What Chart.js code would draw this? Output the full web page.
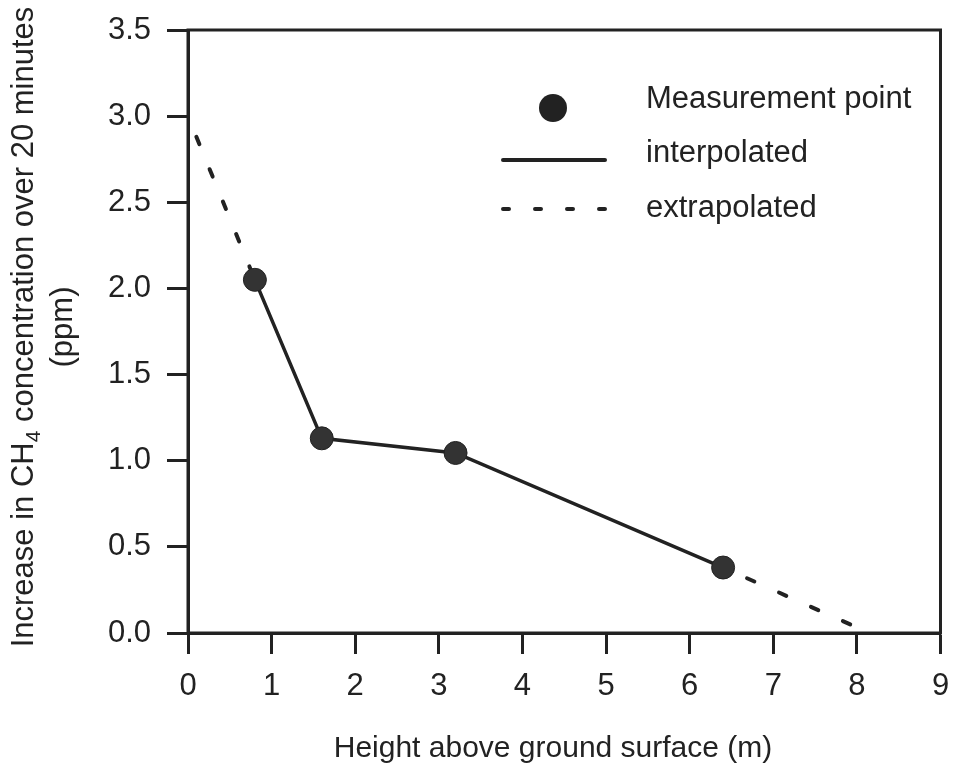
<!DOCTYPE html>
<html>
<head>
<meta charset="utf-8">
<script src="https://cdn.jsdelivr.net/npm/chart.js@4.4.1/dist/chart.umd.min.js"></script>
<style>
  html, body { margin: 0; padding: 0; background: #fff; }
  #wrap { width: 953px; height: 765px; }
</style>
</head>
<body>
<div id="wrap"><canvas id="ch4Chart" width="953" height="765"></canvas></div>
<script>
// measured points: height (m) vs CH4 increase (ppm)
const heights = [0.8, 1.6, 3.2, 6.4];
const ch4Increase = [2.05, 1.13, 1.045, 0.38];

// extrapolated ends of the profile
const extrapUpperX = [0.1, 0.8];
const extrapUpperY = [2.88, 2.05];
const extrapLowerX = [7.92, 6.4];
const extrapLowerY = [0.05, 0.38];

const xTicks = [0, 1, 2, 3, 4, 5, 6, 7, 8, 9];
const yTicks = [0, 0.5, 1.0, 1.5, 2.0, 2.5, 3.0, 3.5];

const legendLabels = ['Measurement point', 'interpolated', 'extrapolated'];

const INK = '#222';
const FONT = '"Liberation Sans", Arial, sans-serif';

const toPoints = (xs, ys) => xs.map((x, i) => ({ x: x, y: ys[i] }));

// box frame, legend and axis titles
const decorPlugin = {
    id: 'decor',
    afterDraw(chart) {
        const ctx = chart.ctx;
        const a = chart.chartArea;
        ctx.save();
        ctx.strokeStyle = INK;
        ctx.lineWidth = 3;
        ctx.strokeRect(a.left, a.top, a.right - a.left, a.bottom - a.top);

        // legend
        ctx.fillStyle = INK;
        ctx.beginPath();
        ctx.arc(553, 108, 14, 0, Math.PI * 2);
        ctx.fill();

        ctx.lineCap = 'round';
        ctx.lineWidth = 4;
        ctx.beginPath();
        ctx.moveTo(503, 160);
        ctx.lineTo(605, 160);
        ctx.stroke();

        ctx.setLineDash([6, 26]);
        ctx.beginPath();
        ctx.moveTo(503, 209);
        ctx.lineTo(606, 209);
        ctx.stroke();
        ctx.setLineDash([]);

        ctx.font = '31px ' + FONT;
        ctx.textBaseline = 'alphabetic';
        ctx.textAlign = 'left';
        ctx.fillText(legendLabels[0], 646, 108);
        ctx.fillText(legendLabels[1], 646, 162);
        ctx.fillText(legendLabels[2], 646, 217);

        // x axis title
        ctx.font = '30px ' + FONT;
        ctx.textAlign = 'center';
        ctx.fillText('Height above ground surface (m)', 553, 757);

        // y axis title with subscript
        const cy = 327;
        ctx.translate(0, cy);
        ctx.rotate(-Math.PI / 2);
        const big = '31px ' + FONT;
        const small = '21px ' + FONT;
        const p1 = 'Increase in CH';
        const p2 = '4';
        const p3 = ' concentration over 20 minutes';
        ctx.font = big;
        const w1 = ctx.measureText(p1).width;
        const w3 = ctx.measureText(p3).width;
        ctx.font = small;
        const w2 = ctx.measureText(p2).width;
        let x0 = -(w1 + w2 + w3) / 2;
        ctx.textAlign = 'left';
        ctx.font = big;
        ctx.fillText(p1, x0, 33);
        ctx.font = small;
        ctx.fillText(p2, x0 + w1, 40);
        ctx.font = big;
        ctx.fillText(p3, x0 + w1 + w2, 33);
        ctx.textAlign = 'center';
        ctx.fillText('(ppm)', 0, 72);
        ctx.restore();
    }
};

new Chart(document.getElementById('ch4Chart'), {
    type: 'scatter',
    data: {
        datasets: [
            {
                label: legendLabels[0],
                data: toPoints(heights, ch4Increase),
                showLine: true,
                borderColor: INK,
                borderWidth: 3.5,
                pointRadius: 11.5,
                pointBackgroundColor: '#333',
                pointBorderColor: INK,
                pointBorderWidth: 1,
                order: 0
            },
            {
                label: 'upper',
                data: toPoints(extrapUpperX, extrapUpperY),
                showLine: true,
                borderColor: INK,
                borderWidth: 4,
                borderDash: [8, 27],
                borderCapStyle: 'round',
                pointRadius: 0,
                order: 1
            },
            {
                label: legendLabels[2],
                data: toPoints(extrapLowerX, extrapLowerY),
                showLine: true,
                borderColor: INK,
                borderWidth: 4,
                borderDash: [8, 27],
                borderCapStyle: 'round',
                pointRadius: 0,
                order: 1
            }
        ]
    },
    options: {
        responsive: false,
        animation: false,
        devicePixelRatio: 1,
        layout: { padding: { left: 0, top: 30, right: 11, bottom: 0 } },
        plugins: {
            legend: { display: false },
            tooltip: { enabled: false }
        },
        scales: {
            x: {
                type: 'linear',
                min: 0,
                max: 9,
                afterFit: (scale) => {
                    scale.height = 132;
                    scale.paddingLeft = 0;
                    scale.paddingRight = 0;
                },
                afterBuildTicks: (scale) => { scale.ticks = xTicks.map(v => ({ value: v })); },
                border: { display: true, color: INK, width: 3 },
                grid: {
                    drawOnChartArea: false,
                    drawTicks: true,
                    tickLength: 21,
                    tickWidth: 3,
                    color: INK
                },
                ticks: {
                    color: INK,
                    font: { family: FONT, size: 31 },
                    padding: 14,
                    callback: (v) => String(v)
                }
            },
            y: {
                type: 'linear',
                min: 0,
                max: 3.5,
                afterFit: (scale) => {
                    scale.width = 188;
                    scale.paddingTop = 0;
                    scale.paddingBottom = 0;
                },
                afterBuildTicks: (scale) => { scale.ticks = yTicks.map(v => ({ value: v })); },
                border: { display: true, color: INK, width: 3 },
                grid: {
                    drawOnChartArea: false,
                    drawTicks: true,
                    tickLength: 21,
                    tickWidth: 3,
                    color: INK
                },
                ticks: {
                    color: INK,
                    font: { family: FONT, size: 31 },
                    padding: 16,
                    callback: (v) => Number(v).toFixed(1)
                }
            }
        }
    },
    plugins: [decorPlugin]
});
</script>
</body>
</html>
